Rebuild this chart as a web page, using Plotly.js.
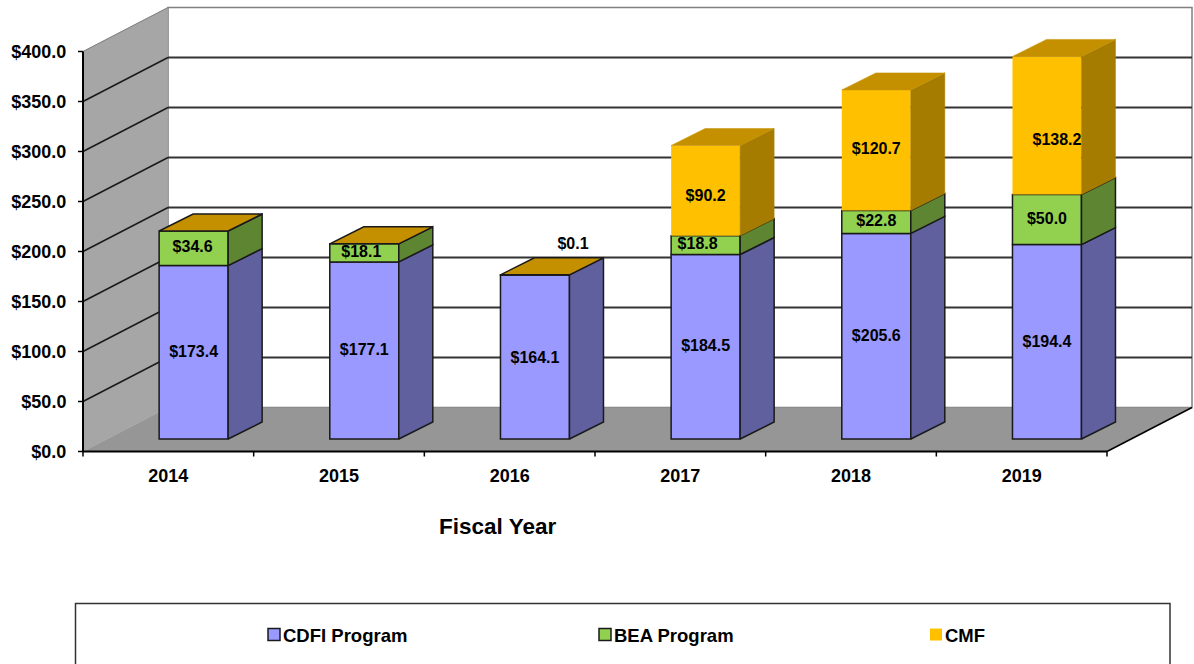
<!DOCTYPE html>
<html>
<head>
<meta charset="utf-8">
<script src="https://cdn.plot.ly/plotly-3.0.1.min.js"></script>
<style>html,body{margin:0;padding:0;background:#fff;overflow:hidden}#chart{width:1194px;height:664px}</style>
</head>
<body>
<div id="chart"></div>
<script>
// ---- data ----
const years = ['2014','2015','2016','2017','2018','2019'];
const cdfi = [173.4,177.1,164.1,184.5,205.6,194.4];
const bea  = [34.6,18.1,0.1,18.8,22.8,50.0];
const cmf  = [0,0,0,90.2,120.7,138.2];
const yTicks = [0,50,100,150,200,250,300,350,400];

// ---- appearance ----
const FONT = '"Liberation Sans", Arial, sans-serif';
const INK = '#1a1a1a';
const PX_X = 1024/6;            // pixels per category
const L = 78, T = 0, B = 458;   // plot frame in pixels
const xMin = -(83-L)/PX_X, xMax = (1194-83)/PX_X;
const yMin = -6.5, yMax = 451.5;
const wallDX = 85/PX_X, wallDY = 44;      // depth of the room
const faceDX = 25.3/PX_X, faceDY = 12.5;  // front of bars from the axis plane
const barDX = 34/PX_X, barDY = 17;        // depth of the bars
const barW = 69/PX_X;
const series = [
  {name:'CDFI Program', v:cdfi, front:'#9999ff', side:'#60609f', line:INK, lw:1.5},
  {name:'BEA Program',  v:bea,  front:'#92d050', side:'#5e8532', line:INK, lw:1.5},
  {name:'CMF',          v:cmf,  front:'#ffc000', side:'#a67c00', line:'#ffc000', lw:0}
];
const topColor = '#c49000';
// label nudges in pixels (the original's hand-placed labels)
const nudgeX = [[0,0,0,0,0,0],[-1,-3,38,-8,0,0],[0,0,0,0,0,10]];
const nudgeY = [[1,1,2,0,1,1],[0,0,-30,0,0,0],[0,0,0,6,0,15]];

const centers = years.map((_,i)=>i+0.5);
const bx = centers.map(c=>c+faceDX);
const traces = [];
const cum = years.map(()=>faceDY);

// front faces
const stacks = series.map(s=>{
  const base = cum.slice();
  s.v.forEach((d,i)=>{cum[i]+=d;});
  return base;
});
series.forEach((s,k)=>{
  traces.push({
    type:'bar', name:s.name, x:bx, base:stacks[k],
    y:s.v.map(d=>d>0?d:null), width:barW,
    marker:{color:s.front, line:{color:s.line,width:s.lw}},
    hoverinfo:'name+y', showlegend:true
  });
});
// side faces
series.forEach((s,k)=>{
  s.v.forEach((d,i)=>{
    if(!(d>0.5)) return;
    const xr=bx[i]+barW/2, b=stacks[k][i], t=b+d;
    traces.push({type:'scatter',mode:'lines',showlegend:false,hoverinfo:'skip',
      x:[xr,xr+barDX,xr+barDX,xr,xr], y:[b,b+barDY,t+barDY,t,b],
      fill:'toself',fillcolor:s.side,line:{color:s.lw?s.line:s.side,width:s.lw||0.5}});
  });
});
// top faces
years.forEach((_,i)=>{
  const xl=bx[i]-barW/2, xr=bx[i]+barW/2, t=cum[i], plain=cmf[i]>0;
  traces.push({type:'scatter',mode:'lines',showlegend:false,hoverinfo:'skip',
    x:[xl,xl+barDX,xr+barDX,xr,xl], y:[t,t+barDY,t+barDY,t,t],
    fill:'toself',fillcolor:topColor,line:{color:plain?topColor:INK,width:plain?0.5:1.5}});
});
// value labels
series.forEach((s,k)=>{
  const xs=[],ys=[],tx=[];
  s.v.forEach((d,i)=>{
    if(!(d>0)) return;
    xs.push(bx[i]+nudgeX[k][i]/PX_X);
    ys.push(stacks[k][i]+d/2-nudgeY[k][i]);
    tx.push('$'+d.toFixed(1));
  });
  traces.push({type:'scatter',mode:'text',showlegend:false,hoverinfo:'skip',x:xs,y:ys,text:tx,
    textposition:'middle center',textfont:{family:FONT,size:16,color:'#000',weight:700}});
});

// room: walls, floor, gridlines, axis lines
const poly = pts=>'M'+pts.map(p=>p[0]+','+p[1]).join('L')+'Z';
const shapes = [];
const add = o=>shapes.push(Object.assign({xref:'x',yref:'y',layer:'below'},o));
const X6 = years.length;
add({type:'path',path:poly([[wallDX,wallDY],[X6+wallDX,wallDY],[X6+wallDX,400+wallDY],[wallDX,400+wallDY]]),fillcolor:'#ffffff',line:{color:'#808080',width:1.5}});
add({type:'path',path:poly([[0,0],[wallDX,wallDY],[X6+wallDX,wallDY],[X6,0]]),fillcolor:'#969696',line:{width:0}});
add({type:'path',path:poly([[0,0],[0,400],[wallDX,400+wallDY],[wallDX,wallDY]]),fillcolor:'#a6a6a6',line:{color:'#9a9a9a',width:0.5}});
yTicks.forEach(v=>{
  if(v>0 && v<400){
    add({type:'line',x0:wallDX,x1:X6+wallDX,y0:v+wallDY,y1:v+wallDY,line:{color:'#333',width:1.8}});
    add({type:'line',x0:0,x1:wallDX,y0:v,y1:v+wallDY,line:{color:'#1a1a1a',width:1.5}});
  }
  add({type:'line',x0:-5/PX_X,x1:0,y0:v,y1:v,line:{color:'#000',width:1.5}});
});
add({type:'line',x0:0,x1:wallDX,y0:400,y1:400+wallDY,line:{color:'#808080',width:1}});
add({type:'line',x0:0,x1:0,y0:0,y1:400,line:{color:'#000',width:2}});
add({type:'line',x0:0,x1:X6,y0:0,y1:0,line:{color:'#000',width:2}});
add({type:'line',x0:X6,x1:X6+wallDX,y0:0,y1:wallDY,line:{color:'#000',width:1.5}});
for(let i=0;i<=X6;i++) add({type:'line',x0:i,x1:i,y0:0,y1:-5,line:{color:'#000',width:1.5}});

// legend frame, in paper coordinates
const plotW = 1194-L, plotH = B-T;
const px = x=>(x-L)/plotW, py = y=>(B-y)/plotH;
shapes.push({type:'rect',xref:'paper',yref:'paper',layer:'below',
  x0:px(75.5),x1:px(1170),y0:py(603.5),y1:py(680),fillcolor:'rgba(0,0,0,0)',line:{color:'#333',width:1.5}});

const layout = {
  width:1194,height:664,autosize:false,
  margin:{l:L,r:0,t:T,b:664-B,pad:0},
  paper_bgcolor:'#fff',plot_bgcolor:'rgba(0,0,0,0)',
  barmode:'overlay',
  font:{family:FONT,color:'#000'},
  xaxis:{range:[xMin,xMax],tickmode:'array',tickvals:centers,ticktext:years,
    showgrid:false,zeroline:false,showline:false,ticks:'outside',ticklen:1,tickcolor:'rgba(0,0,0,0)',
    tickfont:{family:FONT,size:18,weight:700,color:'#000'}},
  yaxis:{range:[yMin,yMax],tickmode:'array',tickvals:yTicks,ticktext:yTicks.map(v=>'$'+v.toFixed(1)),
    showgrid:false,zeroline:false,showline:false,ticks:'outside',ticklen:7,tickcolor:'rgba(0,0,0,0)',
    tickfont:{family:FONT,size:18,weight:700,color:'#000'}},
  shapes:shapes,
  annotations:[{xref:'paper',yref:'paper',x:px(497.5),y:py(526),xanchor:'center',yanchor:'middle',showarrow:false,
    text:'<b>Fiscal Year</b>',font:{family:FONT,size:22.5,color:'#000'}}],
  showlegend:true,
  legend:{orientation:'h',xref:'container',yref:'container',x:243/1194,y:1-616/664,xanchor:'left',yanchor:'top',
    entrywidth:286,entrywidthmode:'pixels',itemwidth:30,itemclick:false,itemdoubleclick:false,
    bgcolor:'rgba(0,0,0,0)',borderwidth:0,font:{family:FONT,size:18.5,weight:700,color:'#000'}}
};
Plotly.newPlot('chart',traces,layout,{displayModeBar:false,responsive:false}).then(gd=>{
  // the original's legend keys sit tight against their text
  gd.querySelectorAll('.legend .legendsymbols').forEach(el=>el.setAttribute('transform','translate(11,0)'));
});
</script>
</body>
</html>
